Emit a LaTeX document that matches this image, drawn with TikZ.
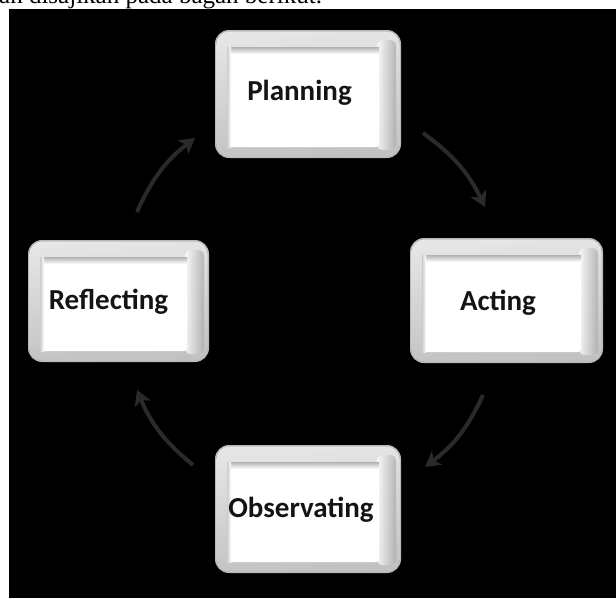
\documentclass[tikz,border=0pt]{standalone}
\usepackage{fontspec}
\setmainfont{Liberation Serif}
\newfontfamily\boxfont{Carlito}
\usetikzlibrary{arrows.meta}
\definecolor{arrowgray}{HTML}{2A2A2A}
\tikzset{
  cyclearrow/.style={draw=arrowgray, line width=4pt, -{Stealth[length=15pt,width=17pt,inset=4pt]}},
  boxlabel/.style={font=\boxfont\bfseries\fontsize{29}{34}\selectfont, text=black!92, inner sep=0pt, anchor=base},
}
% x1 y1 x2 y2 in pixels, y measured downwards
\newcommand\mybevel[4]{%
  \fill[gray!55, rounded corners=14pt] (#1,-#2) rectangle (#3,-#4);
  \shade[rounded corners=13pt, left color=gray!30, middle color=white, right color=gray!35]
     (#1+1.5,-#2-1.5) rectangle (#3-1.5,-#4+1.5);
  \shade[rounded corners=13pt, top color=white, bottom color=gray!70, opacity=0.4]
     (#1+1.5,-#2-1.5) rectangle (#3-1.5,-#4+1.5);
  \shade[rounded corners=6pt, left color=white, right color=gray!65, opacity=0.8] (#3-24,-#2-10) rectangle (#3-5,-#4+8);
  \fill[white, rounded corners=3pt] (#1+12,-#2-17) rectangle (#3-22,-#4+11);
  \shade[top color=gray!60, bottom color=white] (#1+12,-#2-17) rectangle (#3-22,-#2-24);
  \shade[left color=gray!40, right color=white] (#1+12,-#2-17) rectangle (#1+16,-#4+11);
}
\begin{document}
\begin{tikzpicture}[x=1pt,y=1pt]
\useasboundingbox (0,0) rectangle (616,-598);
\clip (0,0) rectangle (616,-598);
\fill[white] (0,0) rectangle (616,-598);
\node[anchor=base west, inner sep=0pt, font=\fontsize{25}{29}\selectfont] (caption) at (-1,-3.5) {an disajikan pada bagan berikut.};
\fill[black] (9,-9) rectangle (616,-598);

\mybevel{215}{30}{401}{158}
\mybevel{410}{238}{603}{363}
\mybevel{215}{445}{401}{573}
\mybevel{28}{240}{209}{362}

\node[boxlabel] (plan) at (299.5,-100) {Planning};
\node[boxlabel] (act) at (498,-310) {Acting};
\node[boxlabel] (obs) at (301,-517) {Observating};
\node[boxlabel] (refl) at (108.5,-309) {Reflecting};

\coordinate (a1s) at (423,-133);
\coordinate (a1e) at (485,-207);
\coordinate (a2s) at (483,-395);
\coordinate (a2e) at (425,-467);
\coordinate (a3s) at (193,-465);
\coordinate (a3e) at (137,-390);
\coordinate (a4s) at (137,-212);
\coordinate (a4e) at (195,-138);

\draw[cyclearrow] (a1s) to[bend left=14] (a1e);
\draw[cyclearrow] (a2s) to[bend left=14] (a2e);
\draw[cyclearrow] (a3s) to[bend left=14] (a3e);
\draw[cyclearrow] (a4s) to[bend left=14] (a4e);
\end{tikzpicture}
\end{document}
